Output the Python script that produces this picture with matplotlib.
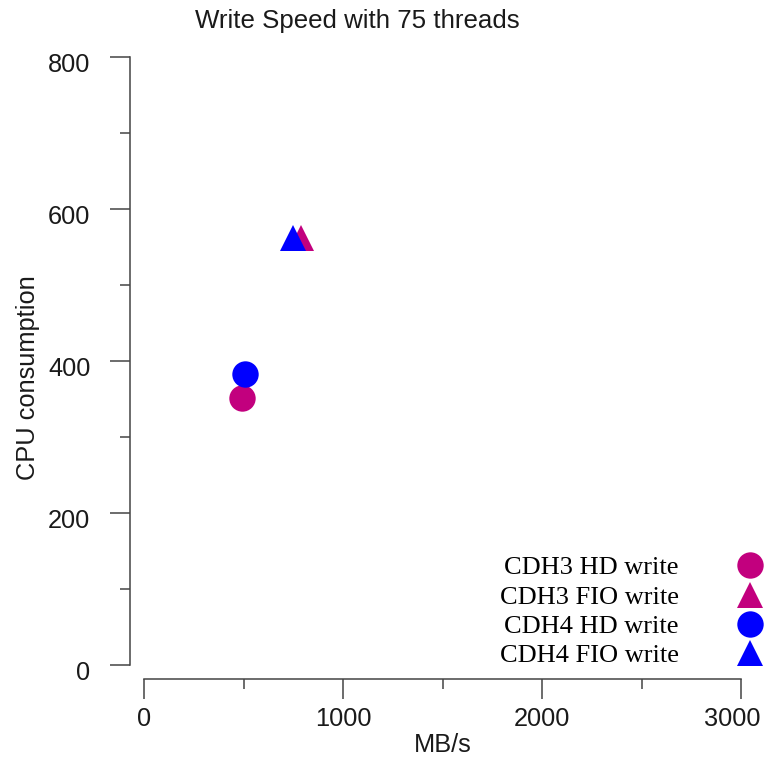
import matplotlib
matplotlib.use("Agg")
import matplotlib.pyplot as plt
from matplotlib.ticker import MultipleLocator
import matplotlib.transforms as mtrans

# data
series = ["CDH3 HD write", "CDH3 FIO write", "CDH4 HD write", "CDH4 FIO write"]
mbps = [492, 790, 508, 750]
cpu = [351, 562, 383, 562]
colors = ["#C2007E", "#C2007E", "#0000FF", "#0000FF"]
markers = ["o", "^", "o", "^"]
xticks = [0, 1000, 2000, 3000]
yticks = [0, 200, 400, 600, 800]

W, H = 766, 763
fig = plt.figure(figsize=(W / 100, H / 100), dpi=100)

# axes box in pixels (left, right, bottom, top), and where 0 lands
px_l, px_r, px_b, px_t = 130, 760, 679, 40
x0_px, x_scale = 144, 0.199   # px per MB/s
y0_px, y_scale = 665, 0.76    # px per cpu unit

ax = fig.add_axes([px_l / W, 1 - px_b / H, (px_r - px_l) / W, (px_b - px_t) / H])
ax.set_xlim((px_l - x0_px) / x_scale, (px_r - x0_px) / x_scale)
ax.set_ylim(-(px_b - y0_px) / y_scale, (y0_px - px_t) / y_scale)

for name, x, y, c, m in zip(series, mbps, cpu, colors, markers):
    ax.plot([x], [y], linestyle="none", marker=m, color=c, markersize=19,
            markeredgewidth=0, label=name)

axcol = "#444444"
txtcol = "#1a1a1a"
for side in ["top", "right"]:
    ax.spines[side].set_visible(False)
ax.spines["left"].set_bounds(0, 800)
ax.spines["bottom"].set_bounds(0, 3000)
for side in ["left", "bottom"]:
    ax.spines[side].set_color(axcol)
    ax.spines[side].set_linewidth(1.1)

ax.set_xticks(xticks)
ax.set_yticks(yticks)
ax.xaxis.set_minor_locator(MultipleLocator(500))
ax.yaxis.set_minor_locator(MultipleLocator(100))

sans = "Liberation Sans"
ax.tick_params(axis="both", which="major", length=14.5, width=1.1, color=axcol,
               labelsize=18.3, labelcolor=txtcol)
ax.tick_params(axis="both", which="minor", length=7.5, width=1.1, color=axcol)
ax.tick_params(axis="y", which="major", pad=14)
ax.tick_params(axis="x", which="major", pad=6)
for lab in ax.get_xticklabels() + ax.get_yticklabels():
    lab.set_family(sans)

# small nudges so labels sit where the reference has them
fig.canvas.draw()
last = ax.get_xticklabels()[-1]
last.set_transform(last.get_transform() +
                   mtrans.ScaledTranslation(-9 / 100, 0, fig.dpi_scale_trans))
for lab in ax.get_yticklabels():
    lab.set_transform(lab.get_transform() +
                      mtrans.ScaledTranslation(0, -5 / 100, fig.dpi_scale_trans))

ax.set_xlabel("MB/s", family=sans, fontsize=18.3, color=txtcol)
ax.set_ylabel("CPU consumption", family=sans, fontsize=18.3, color=txtcol)
ax.xaxis.set_label_coords(443 / W, 1 - 745 / H, transform=fig.transFigure)
ax.yaxis.set_label_coords(28 / W, 1 - 378 / H, transform=fig.transFigure)
ax.xaxis.label.set_va("center")
ax.yaxis.label.set_va("center")

fig.text(357 / W, 1 - 21 / H, "Write Speed with 75 threads", family=sans,
         fontsize=18.6, color=txtcol, ha="center", va="center")

ax.legend(loc="upper right", bbox_to_anchor=(763 / W, 1 - 556 / H),
          bbox_transform=fig.transFigure, frameon=False, markerfirst=False,
          prop={"family": "Liberation Serif", "size": 19},
          handlelength=1.0, handletextpad=2.2, labelspacing=0.22,
          borderpad=0, borderaxespad=0)

fig.savefig("out.png", dpi=100)
